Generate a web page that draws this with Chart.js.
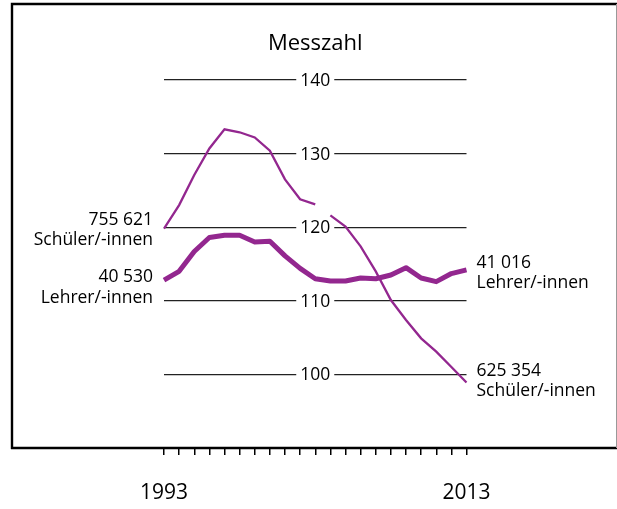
<!DOCTYPE html>
<html lang="de">
<head>
<meta charset="utf-8">
<title>Messzahl Schüler und Lehrer</title>
<script src="https://cdn.jsdelivr.net/npm/chart.js@4/dist/chart.umd.min.js"></script>
<style>
  body { margin: 0; background: #fff; }
  canvas { display: block; }
</style>
</head>
<body>
<canvas id="messChart" width="617" height="509"></canvas>
<script>
// Daten (Messzahl)
const jahre = ['1993', '1994', '1995', '1996', '1997', '1998', '1999', '2000', '2001', '2002', '2003',
               '2004', '2005', '2006', '2007', '2008', '2009', '2010', '2011', '2012', '2013'];
const schueler = [119.8, 123.0, 127.1, 130.7, 133.3, 132.9, 132.2, 130.4, 126.5, 123.8, 123.1,
                  121.6, 120.1, 117.4, 114.0, 110.1, 107.4, 104.9, 103.1, 101.0, 98.9];
const lehrer = [112.8, 114.0, 116.7, 118.6, 118.9, 118.9, 118.0, 118.1, 116.1, 114.4, 113.0,
                112.7, 112.7, 113.1, 113.0, 113.5, 114.5, 113.1, 112.6, 113.7, 114.2];
const schuelerBruch = 10; // Zeitreihenbruch zwischen 2003 und 2004
const yTicks = [100, 110, 120, 130, 140];
const titel = 'Messzahl';
const schuelerStart = ['755 621', 'Schüler/-innen'];
const schuelerEnde = ['625 354', 'Schüler/-innen'];
const lehrerStart = ['40 530', 'Lehrer/-innen'];
const lehrerEnde = ['41 016', 'Lehrer/-innen'];

const lila = '#93278f';
const schrift = '"Open Sans", "Noto Sans", sans-serif';

// Rahmen, Titel, mittige Achsenbeschriftung und Randtexte
const beschriftung = {
    id: 'beschriftung',
    beforeDraw(chart) {
        const ctx = chart.ctx;
        ctx.save();
        ctx.fillStyle = '#fff';
        ctx.fillRect(0, 0, chart.width, chart.height);
        ctx.restore();
    },
    beforeDatasetsDraw(chart) {
        const ctx = chart.ctx;
        const area = chart.chartArea;
        const yScale = chart.scales.y;
        const mitte = (area.left + area.right) / 2;
        ctx.save();
        ctx.font = '17.5px ' + schrift;
        ctx.textAlign = 'center';
        ctx.textBaseline = 'middle';
        yTicks.forEach(v => {
            const y = yScale.getPixelForValue(v);
            const w = ctx.measureText(String(v)).width;
            ctx.fillStyle = '#fff';
            ctx.fillRect(mitte - w / 2 - 4, y - 10, w + 8, 20);
            ctx.fillStyle = '#000';
            ctx.fillText(String(v), mitte, y + 1);
        });
        // Titel
        ctx.font = '22px ' + schrift;
        ctx.textBaseline = 'alphabetic';
        ctx.fillText(titel, mitte, 50);
        ctx.restore();
    },
    afterDraw(chart) {
        const ctx = chart.ctx;
        const area = chart.chartArea;
        const metaS = chart.getDatasetMeta(0).data;
        const metaL = chart.getDatasetMeta(1).data;
        ctx.save();
        ctx.font = '17.5px ' + schrift;
        ctx.fillStyle = '#000';
        ctx.textBaseline = 'middle';
        // linke Texte
        ctx.textAlign = 'right';
        let p = metaS[0];
        ctx.fillText(schuelerStart[0], area.left - 11, p.y - 9);
        ctx.fillText(schuelerStart[1], area.left - 11, p.y + 11);
        p = metaL[0];
        ctx.fillText(lehrerStart[0], area.left - 11, p.y - 3);
        ctx.fillText(lehrerStart[1], area.left - 11, p.y + 18);
        // rechte Texte
        ctx.textAlign = 'left';
        p = metaL[metaL.length - 1];
        ctx.fillText(lehrerEnde[0], area.right + 10, p.y - 7);
        ctx.fillText(lehrerEnde[1], area.right + 10, p.y + 13);
        p = metaS[metaS.length - 1];
        ctx.fillText(schuelerEnde[0], area.right + 10, p.y - 11);
        ctx.fillText(schuelerEnde[1], area.right + 10, p.y + 9);

        // Rahmen
        ctx.strokeStyle = '#000';
        ctx.lineWidth = 2.4;
        ctx.beginPath();
        ctx.moveTo(12, 449);
        ctx.lineTo(12, 4);
        ctx.lineTo(617, 4);
        ctx.stroke();
        ctx.beginPath();
        ctx.moveTo(11, area.bottom);
        ctx.lineTo(617, area.bottom);
        ctx.stroke();
        ctx.strokeStyle = '#999';
        ctx.lineWidth = 1;
        ctx.beginPath();
        ctx.moveTo(616.5, 4);
        ctx.lineTo(616.5, area.bottom);
        ctx.stroke();
        ctx.restore();
    }
};

const ctxMess = document.getElementById('messChart').getContext('2d');
const messChart = new Chart(ctxMess, {
    type: 'line',
    data: {
        labels: jahre,
        datasets: [{
            label: 'Schüler/-innen',
            data: schueler,
            borderColor: lila,
            borderWidth: 2.3,
            pointRadius: 0,
            tension: 0,
            segment: {
                borderColor: c => c.p0DataIndex === schuelerBruch ? 'rgba(0,0,0,0)' : undefined
            }
        }, {
            label: 'Lehrer/-innen',
            data: lehrer,
            borderColor: lila,
            borderWidth: 5,
            borderJoinStyle: 'round',
            pointRadius: 0,
            tension: 0
        }]
    },
    options: {
        responsive: false,
        animation: false,
        layout: {
            padding: { left: 164, right: 150.5, top: 6.4, bottom: 0 }
        },
        plugins: {
            legend: { display: false },
            tooltip: { enabled: false }
        },
        scales: {
            x: {
                type: 'category',
                offset: false,
                border: { display: false },
                grid: {
                    drawOnChartArea: false,
                    drawTicks: true,
                    tickLength: 7,
                    color: '#000',
                    lineWidth: 1.5
                },
                ticks: {
                    autoSkip: false,
                    maxRotation: 0,
                    padding: 25,
                    color: '#000',
                    font: { family: schrift, size: 21 },
                    callback: (v, i) => (i === 0 || i === jahre.length - 1) ? jahre[i] : ''
                },
                afterFit: scale => { scale.height = 61; }
            },
            y: {
                min: 90,
                max: 150,
                border: { display: false },
                ticks: { display: false, stepSize: 10 },
                grid: {
                    drawTicks: false,
                    color: c => yTicks.includes(c.tick.value) ? '#222' : 'rgba(0,0,0,0)',
                    lineWidth: 1.2
                },
                afterFit: scale => { scale.width = 0; }
            }
        }
    },
    plugins: [beschriftung]
});
</script>
</body>
</html>
